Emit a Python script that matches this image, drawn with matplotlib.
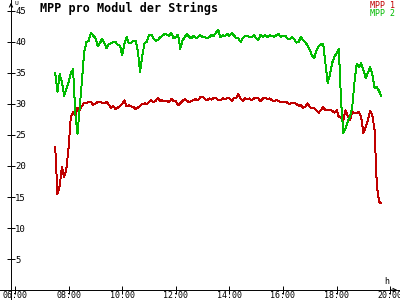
import numpy as np
import matplotlib
matplotlib.use("Agg")
import matplotlib.pyplot as plt

# Messwerte alle 5 Minuten, 07:30 bis 19:40
START_H = 7.5
STEP_MIN = 5

mpp1 = [
    23.1, 15.5, 16.8, 19.8, 18.2, 19.5, 23.0, 28.0, 28.7, 28.2, 29.4, 29.0,   # 07:30
    29.7, 30.2, 30.2, 30.3, 30.3, 29.9, 30.1, 30.3, 30.3, 30.2, 30.2, 30.3,   # 08:30
    29.9, 29.4, 29.7, 29.2, 29.4, 29.7, 30.0, 30.6, 29.6, 29.8, 29.6, 29.5,   # 09:30
    29.2, 29.4, 29.7, 30.0, 30.1, 30.0, 30.3, 30.6, 30.3, 30.5, 31.0, 30.5,   # 10:30
    30.6, 30.4, 30.5, 30.3, 30.8, 30.5, 30.5, 29.8, 30.1, 30.5, 30.8, 30.5,   # 11:30
    30.3, 30.5, 30.6, 30.8, 30.6, 31.1, 31.2, 30.8, 30.6, 30.9, 30.7, 31.0,   # 12:30
    31.0, 30.6, 30.6, 30.9, 30.8, 30.9, 30.9, 30.5, 30.9, 30.9, 31.6, 30.9,   # 13:30
    30.5, 30.9, 30.8, 30.9, 30.6, 30.9, 31.0, 30.9, 30.4, 30.9, 31.0, 30.8,   # 14:30
    30.9, 30.6, 30.5, 30.6, 30.5, 30.3, 30.3, 30.4, 30.2, 30.0, 30.2, 30.2,   # 15:30
    30.0, 29.7, 29.8, 29.4, 29.6, 30.1, 29.5, 29.3, 29.3, 29.0, 28.6, 29.0,   # 16:30
    29.5, 29.0, 29.0, 29.1, 28.9, 28.6, 29.0, 27.9, 27.8, 27.4, 29.0, 28.1,   # 17:30
    27.4, 28.7, 28.5, 28.6, 28.7, 27.9, 25.3, 26.3, 27.4, 28.9, 28.2, 25.8,   # 18:30
    17.0, 14.2, 14.0,                                                         # 19:30
]

mpp2 = [
    35.0, 32.0, 34.8, 33.5, 31.3, 32.5, 33.5, 35.0, 35.6, 28.5, 25.2, 29.5,   # 07:30
    33.9, 38.5, 40.0, 40.2, 41.5, 41.0, 40.7, 39.3, 39.8, 40.5, 39.8, 39.0,   # 08:30
    39.7, 39.8, 40.0, 40.0, 39.5, 39.4, 37.9, 39.8, 40.8, 39.8, 39.9, 40.2,   # 09:30
    40.2, 38.6, 35.2, 37.8, 39.8, 40.0, 41.1, 41.2, 40.6, 40.2, 40.3, 40.8,   # 10:30
    41.0, 41.3, 41.2, 41.0, 41.5, 40.6, 40.8, 41.2, 38.9, 40.2, 40.8, 41.3,   # 11:30
    40.8, 40.6, 41.0, 40.6, 40.8, 41.1, 40.8, 40.8, 40.6, 40.8, 41.1, 41.0,   # 12:30
    41.5, 41.9, 40.8, 41.1, 41.0, 41.3, 41.0, 41.4, 41.1, 40.6, 40.6, 40.0,   # 13:30
    40.6, 41.0, 41.0, 40.8, 40.8, 41.1, 40.6, 40.3, 41.2, 40.8, 41.1, 40.8,   # 14:30
    41.1, 41.0, 40.8, 41.1, 41.3, 40.8, 41.0, 41.0, 40.6, 40.4, 40.8, 40.5,   # 15:30
    39.9, 40.0, 40.8, 40.3, 40.0, 39.4, 38.7, 37.8, 37.4, 38.6, 39.3, 39.6,   # 16:30
    39.7, 36.5, 33.4, 34.7, 36.6, 37.6, 38.2, 38.9, 30.5, 25.3, 26.0, 27.2,   # 17:30
    28.0, 29.5, 33.5, 36.5, 35.9, 36.6, 35.5, 34.2, 35.0, 36.0, 34.8, 32.6,   # 18:30
    32.7, 32.1, 31.3,                                                         # 19:30
]

x_ticks = [6, 8, 10, 12, 14, 16, 18, 20]
x_labels = ["06:00", "08:00", "10:00", "12:00", "14:00", "16:00", "18:00", "20:00"]
y_ticks = [5, 10, 15, 20, 25, 30, 35, 40, 45]

ROT = "#c00000"
GRUEN = "#00bb00"
MONO = "DejaVu Sans Mono"
LW = 0.7

stunden = START_H + np.arange(len(mpp1)) * STEP_MIN / 60.0

fig = plt.figure(figsize=(4, 3), dpi=100)
ax = fig.add_axes([0, 0, 1, 1])
ax.set_xlim(5.44, 20.366)
ax.set_ylim(-1.61, 46.77)

ax.plot(stunden, mpp1, color=ROT, linewidth=LW, antialiased=False)
ax.plot(stunden, mpp2, color=GRUEN, linewidth=LW, antialiased=False)

# Achsen durch den Ursprung, mit offenen Pfeilspitzen
for s in ["top", "right"]:
    ax.spines[s].set_visible(False)
ax.spines["left"].set_position(("data", 5.85))
ax.spines["bottom"].set_position(("data", 0))
ax.spines["left"].set_linewidth(LW)
ax.spines["bottom"].set_linewidth(LW)
ax.annotate("", xy=(1.0, 0), xytext=(0.97, 0), xycoords=ax.get_yaxis_transform(),
            arrowprops=dict(arrowstyle="->", lw=LW, color="black", mutation_scale=6))
ax.annotate("", xy=(5.85, 1.0), xytext=(5.85, 0.97), xycoords=ax.get_xaxis_transform(),
            arrowprops=dict(arrowstyle="->", lw=LW, color="black", mutation_scale=6))

ax.set_xticks(x_ticks)
ax.set_xticklabels(x_labels, fontfamily=MONO, fontsize=6)
ax.set_yticks(y_ticks)
ax.set_yticklabels([str(v) for v in y_ticks], fontfamily=MONO, fontsize=6.5)
ax.tick_params(axis="both", direction="inout", length=6, width=LW)
ax.tick_params(axis="x", pad=-2.5)
ax.tick_params(axis="y", pad=-6)
for lbl in ax.get_yticklabels():
    lbl.set_horizontalalignment("left")

ax.text(40 / 400, 1 - 8 / 300, "MPP pro Modul der Strings", transform=ax.transAxes,
        fontfamily=MONO, fontsize=8.5, fontweight="bold", va="center", ha="left")
ax.text(395 / 400, 1 - 5 / 300, "MPP 1", transform=ax.transAxes, color=ROT,
        fontfamily=MONO, fontsize=6, va="center", ha="right")
ax.text(395 / 400, 1 - 13 / 300, "MPP 2", transform=ax.transAxes, color=GRUEN,
        fontfamily=MONO, fontsize=6, va="center", ha="right")
ax.text(14 / 400, 1 - 1 / 300, "U", transform=ax.transAxes,
        fontfamily=MONO, fontsize=4.5, va="top", ha="left")
ax.text(387 / 400, 1 - 281 / 300, "h", transform=ax.transAxes,
        fontfamily=MONO, fontsize=6, va="center", ha="center")

fig.savefig("out.png", dpi=100)
